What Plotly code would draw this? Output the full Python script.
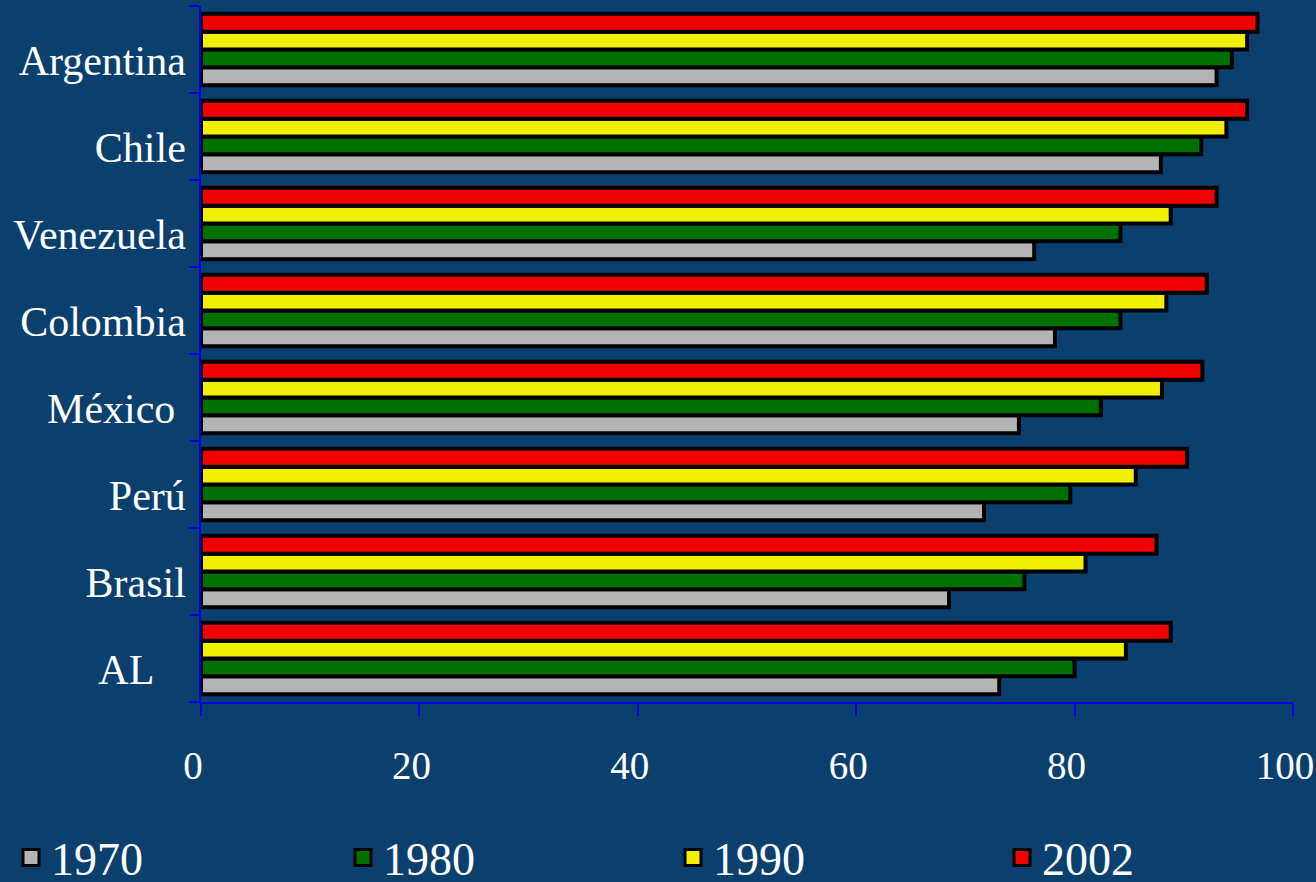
import plotly.graph_objects as go

# Categories listed bottom -> top
countries = ["AL", "Brasil", "Perú", "México", "Colombia", "Venezuela", "Chile", "Argentina"]
country_labels = ["AL\u00a0\u00a0\u00a0", "Brasil", "Perú", "México\u00a0", "Colombia", "Venezuela", "Chile", "Argentina"]

v1970 = [73.1, 68.5, 71.7, 74.9, 78.2, 76.3, 87.9, 93.0]
v1980 = [80.0, 75.4, 79.6, 82.4, 84.2, 84.2, 91.6, 94.4]
v1990 = [84.7, 81.0, 85.6, 88.0, 88.4, 88.8, 93.9, 95.8]
v2002 = [88.8, 87.5, 90.3, 91.7, 92.1, 93.0, 95.8, 96.75]

series_names = ["1970", "1980", "1990", "2002"]
series_values = [v1970, v1980, v1990, v2002]
series_colors = ["#B4B4B4", "#007000", "#F0F000", "#F00000"]
legend_ids = ["legend", "legend2", "legend3", "legend4"]

x_ticks = [0, 20, 40, 60, 80, 100]

BG = "#0B3F6E"
AXIS_BLUE = "#0000E8"
FONT = "Liberation Serif, Times New Roman, serif"
W, H = 1316, 882

fig = go.Figure()
for name, vals, col in zip(series_names, series_values, series_colors):
    fig.add_trace(go.Bar(
        x=vals, y=countries, name=name, orientation="h", showlegend=False,
        marker=dict(color=col, line=dict(color="#000000", width=4)),
    ))

# legend-only entries (larger square swatches)
for name, col, lg in zip(series_names, series_colors, legend_ids):
    fig.add_trace(go.Scatter(
        x=[None], y=[None], name=name, mode="markers", legend=lg, showlegend=True,
        marker=dict(symbol="square", size=16, color=col, line=dict(color="#000000", width=3)),
    ))

legend_left_px = [11, 343, 673, 1002]
legend_common = dict(
    orientation="h", xref="container", yref="container",
    xanchor="left", y=0.069, yanchor="top",
    font=dict(family=FONT, size=46, color="white"),
    bgcolor="rgba(0,0,0,0)",
)
legend_layout = {}
for lg, px in zip(legend_ids, legend_left_px):
    legend_layout[lg] = dict(legend_common, x=px / W)

fig.update_layout(
    width=W, height=H,
    paper_bgcolor=BG, plot_bgcolor=BG,
    barmode="group", bargap=0.18, bargroupgap=0.0,
    margin=dict(l=201, r=23, t=6, b=180),
    font=dict(family=FONT, color="white", size=42),
    showlegend=True,
    **legend_layout,
)

fig.update_xaxes(
    range=[0, 100], tickvals=x_ticks, ticktext=[str(t) for t in x_ticks],
    showgrid=False, zeroline=False, automargin=False,
    showline=True, linecolor=AXIS_BLUE, linewidth=1.5,
    ticks="outside", ticklen=12, tickwidth=1.5, tickcolor=AXIS_BLUE,
    tickfont=dict(family=FONT, size=39, color="white"),
    ticklabelstandoff=16, ticklabelshift=-8, ticklabeloverflow="allow",
)

fig.update_yaxes(
    categoryorder="array", categoryarray=countries,
    tickvals=countries, ticktext=country_labels,
    range=[-0.5, 7.5], automargin=False,
    showgrid=False, zeroline=False,
    showline=True, linecolor=AXIS_BLUE, linewidth=1.5,
    ticks="outside", tickson="boundaries", ticklen=10, tickwidth=1.5, tickcolor=AXIS_BLUE,
    tickfont=dict(family=FONT, size=42, color="white"),
    ticklabelshift=11, ticklabelstandoff=5,
)

fig.write_html(
    "out.html",
    config={"displayModeBar": False},
    post_script="document.body.style.margin='0px';document.body.style.background='" + BG + "';",
)
